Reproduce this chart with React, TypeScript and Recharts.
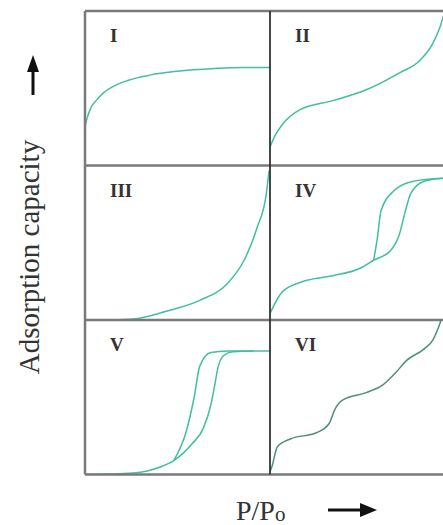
import React from "react";
import { LineChart, Line, XAxis, YAxis } from "recharts";

// Isotherm curves, x = relative pressure (0..1), y = amount adsorbed (0..1 of panel)
const typeI = [
  { x: 0, y: 0.25 }, { x: 0.01, y: 0.3 }, { x: 0.03, y: 0.37 }, { x: 0.06, y: 0.42 },
  { x: 0.1, y: 0.47 }, { x: 0.15, y: 0.51 }, { x: 0.23, y: 0.55 }, { x: 0.35, y: 0.585 },
  { x: 0.5, y: 0.61 }, { x: 0.7, y: 0.628 }, { x: 0.85, y: 0.635 }, { x: 1, y: 0.635 },
];

const typeII = [
  { x: 0, y: 0.12 }, { x: 0.03, y: 0.2 }, { x: 0.07, y: 0.27 }, { x: 0.16, y: 0.36 },
  { x: 0.34, y: 0.42 }, { x: 0.52, y: 0.49 }, { x: 0.7, y: 0.6 }, { x: 0.81, y: 0.68 },
  { x: 0.88, y: 0.79 }, { x: 0.92, y: 0.9 }, { x: 0.945, y: 1.0 },
];

const typeIII = [
  { x: 0, y: 0 }, { x: 0.26, y: 0.01 }, { x: 0.44, y: 0.06 }, { x: 0.62, y: 0.13 },
  { x: 0.77, y: 0.24 }, { x: 0.86, y: 0.39 }, { x: 0.93, y: 0.6 }, { x: 0.98, y: 0.82 },
  { x: 0.995, y: 0.97 },
];

const typeIVads = [
  { x: 0, y: 0.045 }, { x: 0.07, y: 0.19 }, { x: 0.2, y: 0.26 }, { x: 0.34, y: 0.29 },
  { x: 0.49, y: 0.34 }, { x: 0.56, y: 0.39 }, { x: 0.65, y: 0.45 }, { x: 0.7, y: 0.56 },
  { x: 0.73, y: 0.7 }, { x: 0.76, y: 0.82 }, { x: 0.83, y: 0.9 }, { x: 0.935, y: 0.92 },
  { x: 1, y: 0.925 },
];
const typeIVdes = [
  { x: 0.56, y: 0.39 }, { x: 0.58, y: 0.53 }, { x: 0.6, y: 0.71 }, { x: 0.67, y: 0.84 },
  { x: 0.77, y: 0.9 }, { x: 0.935, y: 0.92 },
];

const typeVads = [
  { x: 0, y: 0 }, { x: 0.26, y: 0.01 }, { x: 0.41, y: 0.05 }, { x: 0.48, y: 0.09 },
  { x: 0.58, y: 0.2 }, { x: 0.64, y: 0.3 }, { x: 0.68, y: 0.45 }, { x: 0.7, y: 0.57 },
  { x: 0.72, y: 0.7 }, { x: 0.75, y: 0.77 }, { x: 0.8, y: 0.795 }, { x: 0.91, y: 0.8 },
  { x: 1, y: 0.8 },
];
const typeVdes = [
  { x: 0.48, y: 0.09 }, { x: 0.55, y: 0.29 }, { x: 0.59, y: 0.5 }, { x: 0.62, y: 0.7 },
  { x: 0.68, y: 0.79 }, { x: 0.77, y: 0.8 }, { x: 0.91, y: 0.8 },
];

const typeVI = [
  { x: 0, y: 0.02 }, { x: 0.01, y: 0.05 }, { x: 0.04, y: 0.18 }, { x: 0.11, y: 0.23 },
  { x: 0.25, y: 0.27 }, { x: 0.32, y: 0.33 }, { x: 0.35, y: 0.42 }, { x: 0.39, y: 0.48 },
  { x: 0.52, y: 0.53 }, { x: 0.61, y: 0.58 }, { x: 0.68, y: 0.66 }, { x: 0.74, y: 0.74 },
  { x: 0.83, y: 0.81 }, { x: 0.88, y: 0.87 }, { x: 0.91, y: 0.95 }, { x: 0.925, y: 1.0 },
];

const numerals = ["I", "II", "III", "IV", "V", "VI"];
const panelData = [[typeI], [typeII], [typeIII], [typeIVads, typeIVdes], [typeVads, typeVdes], [typeVI]];

const LEFT = 85;
const TOP = 11;
const PANEL_W = 185;
const PANEL_H = 154.5;
const TEAL = "#42bea2";
const FONT = "'Liberation Serif', 'DejaVu Serif', serif";

function Panel({ series, color, label }: { series: { x: number; y: number }[][]; color: string; label: string }) {
  return (
    <div style={{ position: "relative", width: PANEL_W, height: PANEL_H }}>
      <LineChart width={PANEL_W} height={PANEL_H} margin={{ top: 0, right: 0, bottom: 0, left: 0 }}>
        <XAxis type="number" dataKey="x" domain={[0, 1]} hide allowDataOverflow />
        <YAxis type="number" dataKey="y" domain={[0, 1]} hide allowDataOverflow />
        {series.map((d, i) => (
          <Line
            key={i}
            data={d}
            dataKey="y"
            type="monotone"
            stroke={color}
            strokeWidth={1.5}
            dot={false}
            isAnimationActive={false}
          />
        ))}
      </LineChart>
      <span
        style={{
          position: "absolute",
          left: 25,
          top: 15,
          fontFamily: FONT,
          fontWeight: "bold",
          fontSize: 19,
          lineHeight: "19px",
          color: "#333",
        }}
      >
        {label}
      </span>
    </div>
  );
}

export default function App() {
  return (
    <div
      style={{
        position: "absolute",
        left: 0,
        top: 0,
        width: 443,
        height: 525,
        overflow: "hidden",
        background: "#fff",
      }}
    >
      {/* panel grid */}
      {panelData.map((series, i) => {
        const col = i % 2;
        const row = Math.floor(i / 2);
        return (
          <div
            key={i}
            style={{ position: "absolute", left: LEFT + col * PANEL_W, top: TOP + row * PANEL_H }}
          >
            <Panel series={series} color={i === 5 ? "#4d8f7c" : TEAL} label={numerals[i]} />
          </div>
        );
      })}

      {/* frame lines */}
      <svg width={443} height={525} style={{ position: "absolute", left: 0, top: 0, pointerEvents: "none" }}>
        <g stroke="#7a7a7a" strokeWidth={2.5} fill="none">
          <line x1={LEFT} y1={TOP} x2={LEFT + 2 * PANEL_W} y2={TOP} />
          <line x1={LEFT} y1={TOP + PANEL_H} x2={LEFT + 2 * PANEL_W} y2={TOP + PANEL_H} />
          <line x1={LEFT} y1={TOP + 2 * PANEL_H} x2={LEFT + 2 * PANEL_W} y2={TOP + 2 * PANEL_H} />
          <line x1={LEFT} y1={TOP + 3 * PANEL_H} x2={LEFT + 2 * PANEL_W} y2={TOP + 3 * PANEL_H} />
          <line x1={LEFT} y1={TOP} x2={LEFT} y2={TOP + 3 * PANEL_H} />
        </g>
        <line x1={LEFT + PANEL_W} y1={TOP} x2={LEFT + PANEL_W} y2={TOP + 3 * PANEL_H} stroke="#333" strokeWidth={1.8} />

        {/* y axis title and arrow */}
        <text
          x={0}
          y={0}
          transform="translate(39 257) rotate(-90)"
          textAnchor="middle"
          fontFamily={FONT}
          fontSize={29}
          fill="#333"
        >
          Adsorption capacity
        </text>
        <line x1={33} y1={95} x2={33} y2={68} stroke="#111" strokeWidth={3} />
        <polygon points="33,55 27,72 39,72" fill="#111" />

        {/* x axis title and arrow */}
        <text x={236} y={520} fontFamily={FONT} fontSize={28} fill="#333">
          P/P<tspan fontSize={21} dy={1}>o</tspan>
        </text>
        <line x1={328} y1={510} x2={362} y2={510} stroke="#111" strokeWidth={3} />
        <polygon points="377,510 360,503 360,517" fill="#111" />
      </svg>
    </div>
  );
}
